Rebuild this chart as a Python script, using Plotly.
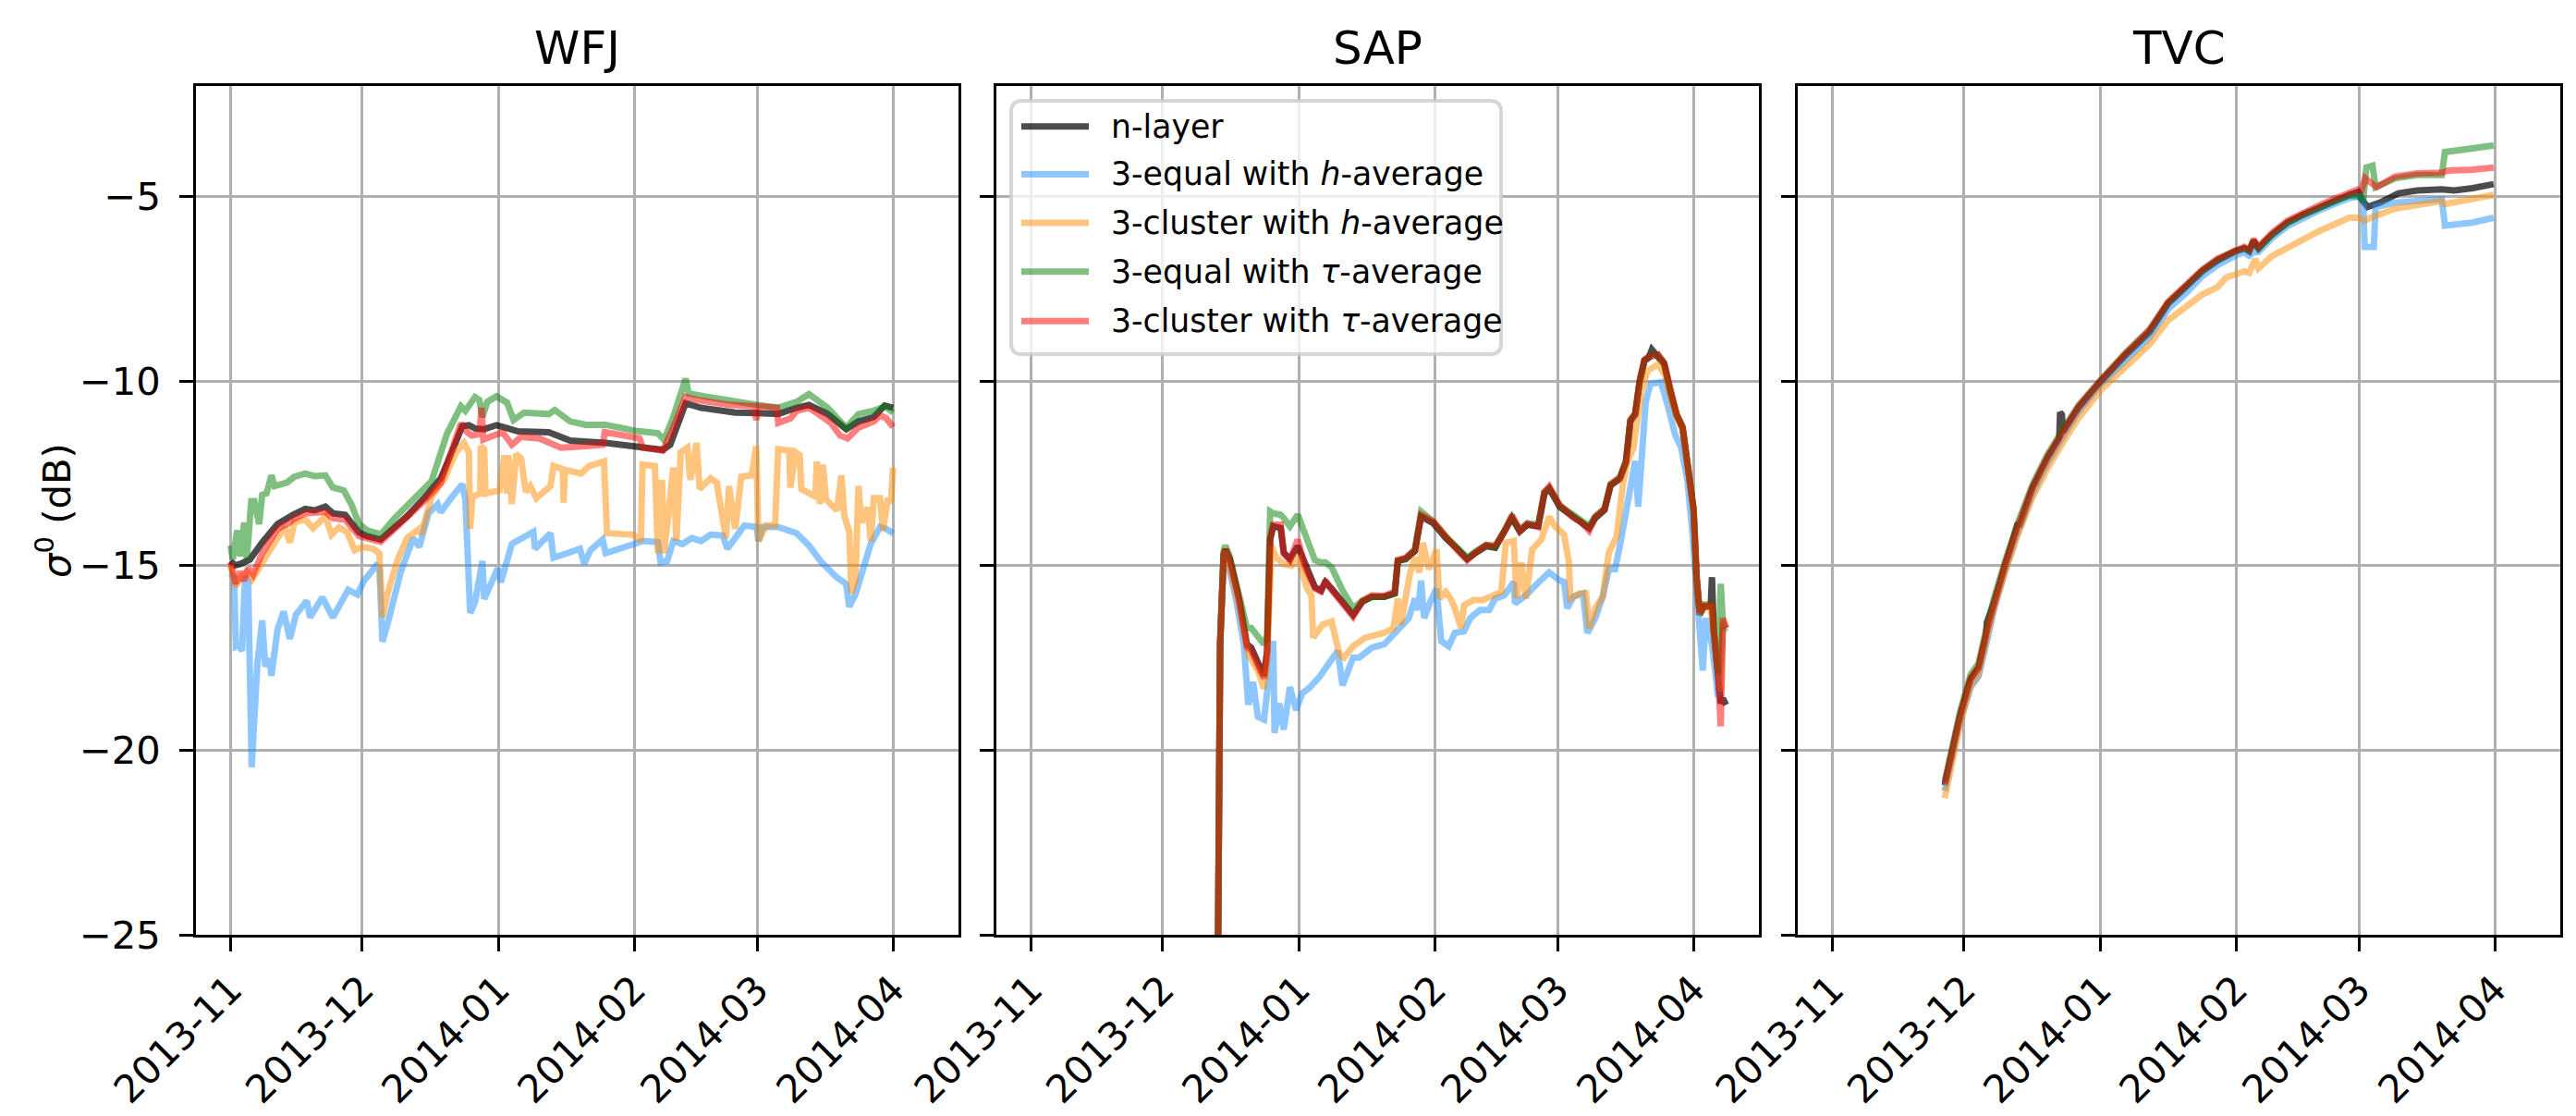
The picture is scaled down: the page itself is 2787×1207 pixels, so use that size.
import pandas as pd
import plotly.graph_objects as go

# ---------------- data (day offsets from 2013-11-01, sigma0 in dB) ----------------
BASE_DATE = "2013-11-01"
SITES = ["WFJ", "SAP", "TVC"]
LABELS = ["n-layer",
          "3-equal with <i>h</i>-average",
          "3-cluster with <i>h</i>-average",
          "3-equal with <i>τ</i>-average",
          "3-cluster with <i>τ</i>-average"]
MONTH_TICKS = ["2013-11-01", "2013-12-01", "2014-01-01", "2014-02-01", "2014-03-01", "2014-04-01"]
MONTH_LABELS = ["2013-11", "2013-12", "2014-01", "2014-02", "2014-03", "2014-04"]
Y_TICKS = [-25, -20, -15, -10, -5]
Y_LABELS = ["−25", "−20", "−15", "−10", "−5"]

# ---- WFJ ----
WFJ_BLACK_D = [0, 1, 2.2, 4.4, 7.2, 10.7, 14.2, 17, 19.1, 21.6,
               23.3, 26.1, 29.3, 31.1, 34.2, 37.4, 40.2, 44.4, 47.9, 50.7,
               52.8, 54.3, 55.7, 57.8, 60.6, 62.7, 65.5, 72.5, 77.4, 85.5,
               92, 98.5, 100.2, 103.7, 107.2, 115, 120, 124.8, 129, 131.8,
               136.1, 140.3, 143.1, 146.6, 149.1, 151]
WFJ_BLACK_V = [-14.87, -14.99, -14.95, -14.83, -14.37, -13.87, -13.62, -13.46, -13.50, -13.40,
               -13.58, -13.62, -14.10, -14.20, -14.29, -13.96, -13.66, -13.13, -12.63, -11.84,
               -11.22, -11.19, -11.28, -11.30, -11.19, -11.26, -11.36, -11.38, -11.61, -11.67,
               -11.76, -11.86, -11.72, -10.60, -10.72, -10.85, -10.86, -10.89, -10.72, -10.64,
               -10.89, -11.30, -11.09, -10.97, -10.66, -10.72]

WFJ_BLUE_D = [0, 0.8, 1.2, 1.9, 2.6, 3.3, 4.0, 4.8, 6.1, 7.2,
              7.9, 8.9, 9.3, 10.7, 12.1, 13.5, 14.9, 17.4, 18.1, 20.9,
              23.3, 26.8, 28.9, 30.4, 33.2, 33.9, 34.6, 36.0, 38.8, 41.6,
              43.0, 45.1, 47.2, 47.9, 50.0, 52.8, 53.5, 54.6, 55.7, 57.4,
              57.8, 60.9, 61.6, 64.1, 69.0, 69.4, 72.9, 73.6, 76.8, 79.6,
              80.6, 82.0, 84.8, 85.5, 92.5, 93.9, 97.4, 98.0, 99.5, 100.9,
              103.0, 105.1, 107.2, 109.4, 112.2, 113.2, 115.0, 117.1, 119.9, 120.3,
              121.3, 124.8, 129.0, 131.8, 134.7, 138.2, 140.3, 141.0, 142.4, 144.5,
              145.9, 148.0, 149.4, 151.0]
WFJ_BLUE_V = [-15.20, -15.32, -17.19, -17.15, -17.31, -15.28, -15.41, -20.46, -17.65, -16.48,
              -17.73, -17.52, -17.98, -16.73, -16.24, -16.98, -16.32, -15.95, -16.40, -15.86,
              -16.40, -15.65, -15.78, -15.41, -14.99, -15.05, -17.06, -16.48, -15.16, -14.25,
              -14.49, -13.58, -13.33, -13.55, -13.21, -12.79, -13.20, -16.28, -15.99, -14.87,
              -15.90, -15.07, -15.45, -14.41, -14.08, -14.54, -14.12, -14.78, -14.66, -14.54,
              -14.95, -14.58, -14.29, -14.66, -14.39, -14.33, -14.36, -14.91, -14.87, -14.33,
              -14.41, -14.25, -14.33, -14.16, -14.18, -14.54, -14.25, -13.91, -13.95, -14.33,
              -13.95, -13.95, -14.12, -14.45, -14.91, -15.32, -15.49, -16.11, -15.78, -14.99,
              -14.41, -13.95, -14.00, -14.12]

WFJ_ORANGE_D = [0, 1.2, 2.2, 3.7, 4.9, 7.2, 10.7, 12.4, 13.5, 14.5,
                17.0, 18.8, 21.6, 23.0, 24.7, 26.5, 28.3, 30.0, 32.5, 33.9,
                34.6, 36.0, 38.1, 40.2, 43.0, 43.4, 45.8, 48.6, 51.4, 53.2,
                54.3, 54.6, 55.1, 56.9, 57.0, 57.8, 58.1, 61.3, 62.4, 63.0,
                63.3, 64.1, 65.1, 66.2, 67.3, 68.3, 69.7, 72.9, 73.6, 75.7,
                75.9, 76.2, 79.9, 81.7, 85.1, 85.8, 89.7, 91.8, 93.5, 93.9,
                96.7, 97.4, 98.3, 98.8, 100.9, 101.6, 102.6, 104.1, 104.8, 106.2,
                106.9, 109.4, 110.8, 112.9, 113.6, 115.0, 116.4, 118.8, 119.8, 120.3,
                122.0, 124.1, 124.8, 127.3, 127.6, 128.7, 129.7, 130.1, 133.3, 133.6,
                134.3, 135.0, 135.7, 138.2, 139.2, 139.9, 141.0, 141.5, 142.4, 143.1,
                143.8, 145.2, 145.9, 146.6, 148.0, 148.7, 149.8, 150.5, 151.0]
WFJ_ORANGE_V = [-14.99, -15.57, -15.32, -15.16, -15.37, -14.91, -14.25, -13.96, -14.37, -13.83,
                -13.75, -13.98, -13.66, -14.16, -13.96, -14.08, -14.58, -14.49, -14.54, -14.66,
                -16.40, -15.65, -14.83, -14.25, -14.00, -14.16, -13.13, -12.67, -11.92, -11.67,
                -11.92, -14.00, -13.13, -13.04, -11.76, -11.84, -13.04, -12.96, -12.00, -13.04,
                -12.00, -13.33, -11.97, -12.09, -13.00, -12.84, -13.17, -12.84, -12.30, -12.38,
                -13.29, -12.40, -12.50, -12.30, -12.17, -14.12, -14.12, -14.16, -14.33, -12.26,
                -12.30, -14.66, -12.67, -14.66, -12.34, -14.33, -11.92, -11.80, -12.67, -11.67,
                -12.92, -12.63, -12.75, -14.25, -12.84, -14.00, -12.59, -12.55, -11.76, -14.33,
                -13.91, -13.91, -11.84, -11.88, -12.88, -11.92, -12.00, -12.92, -13.13, -12.17,
                -13.33, -12.26, -13.21, -13.50, -12.55, -13.66, -14.08, -15.74, -15.41, -12.84,
                -13.83, -13.42, -14.33, -13.17, -13.17, -14.04, -13.17, -13.30, -12.34]

WFJ_GREEN_D = [0, 0.5, 1.5, 2.2, 3.1, 3.7, 4.7, 5.4, 6.5, 7.2,
               8.2, 9.3, 10.0, 12.8, 14.5, 17.0, 19.1, 21.6, 23.3, 25.8,
               27.5, 29.3, 31.1, 34.2, 37.4, 41.6, 45.8, 49.3, 52.5, 53.5,
               55.7, 56.7, 57.4, 58.5, 60.6, 63.0, 64.5, 66.9, 72.5, 73.9,
               77.4, 81.0, 85.5, 92.0, 97.4, 98.8, 100.9, 103.7, 104.4, 108.0,
               115.0, 120.0, 124.8, 129.0, 131.8, 136.1, 140.3, 143.1, 146.6, 149.1,
               151.0]
WFJ_GREEN_V = [-14.45, -14.83, -14.04, -14.74, -13.83, -14.83, -13.25, -13.25, -13.87, -13.08,
               -13.04, -12.55, -12.84, -12.75, -12.59, -12.50, -12.57, -12.55, -12.88, -12.96,
               -13.33, -13.87, -14.04, -14.15, -13.71, -13.21, -12.71, -11.43, -10.68, -10.80,
               -10.43, -10.51, -10.97, -10.56, -10.41, -10.58, -11.05, -10.85, -10.89, -10.78,
               -11.09, -11.18, -11.18, -11.34, -11.41, -11.59, -10.97, -9.93, -10.33, -10.41,
               -10.56, -10.64, -10.72, -10.56, -10.35, -10.72, -11.26, -10.89, -10.80, -10.68,
               -10.85]

WFJ_RED_D = [0, 1.2, 2.2, 3.0, 4.0, 5.1, 7.2, 10.7, 13.5, 14.2,
             17.0, 21.6, 23.3, 26.1, 29.3, 34.2, 37.4, 44.4, 47.9, 50.7,
             52.5, 53.9, 55.0, 56.7, 57.0, 57.2, 57.6, 62.0, 64.1, 66.2,
             70.4, 75.3, 81.0, 84.8, 85.3, 93.2, 93.9, 98.5, 100.9, 103.7,
             106.5, 113.6, 119.2, 119.6, 119.9, 120.2, 124.5, 124.8, 127.6, 129.0,
             131.8, 134.0, 136.8, 138.9, 140.6, 143.1, 146.6, 148.0, 149.4, 151.0]
WFJ_RED_V = [-14.91, -15.49, -15.16, -15.41, -15.07, -15.24, -14.66, -14.00, -13.83, -13.75,
             -13.58, -13.54, -13.71, -13.75, -14.20, -14.35, -14.00, -13.21, -12.75, -11.84,
             -11.14, -11.38, -11.47, -11.43, -10.72, -10.72, -11.58, -11.38, -11.72, -11.51,
             -11.55, -11.80, -11.76, -11.72, -11.38, -11.55, -11.80, -11.88, -11.26, -10.43,
             -10.51, -10.64, -10.68, -11.05, -11.05, -10.68, -10.72, -11.13, -11.01, -10.80,
             -10.72, -10.89, -11.13, -11.47, -11.55, -11.26, -11.09, -10.93, -11.00, -11.24]

# ---- SAP ----
SAP_TAU_D = [42.35, 43.1, 43.9, 44.3, 45.3, 47.4, 49.2, 50.2, 51.7, 53.1,
             53.8, 54.5, 55.2, 56.9, 57.6, 59.0, 60.8, 62.5, 64.7, 66.1,
             67.1, 68.5, 71.0, 73.4, 75.5, 77.7, 80.5, 82.9, 83.6, 85.4,
             87.5, 88.9, 91.7, 94.5, 97.3, 99.4, 101.5, 103.7, 105.8, 107.9,
             109.6, 111.4, 113.1, 115.6, 117.0, 118.1, 120.5, 121.5, 123.6, 125.4,
             127.2, 128.6, 130.7, 132.1, 134.2, 135.6, 136.6, 137.7, 138.7, 139.8,
             140.8, 141.5, 142.9, 144.3, 145.7, 147.1, 148.5, 149.9, 151.0, 151.7,
             152.4, 153.4, 154.9, 155.2, 155.6, 156.6, 157.2, 157.7, 158.4]
SAP_BLACK_V = [-30.0, -17.1, -14.7, -14.56, -14.82, -15.89, -17.13, -17.22, -17.62, -17.98,
               -17.31, -14.29, -13.93, -13.98, -14.64, -14.82, -14.47, -15.00, -15.58, -15.67,
               -15.44, -15.62, -15.98, -16.33, -15.98, -15.84, -15.84, -15.75, -14.87, -14.82,
               -14.60, -13.67, -13.85, -14.25, -14.56, -14.82, -14.64, -14.47, -14.51, -14.11,
               -13.71, -14.07, -13.89, -13.93, -13.05, -12.91, -13.40, -13.49, -13.67, -13.80,
               -13.98, -13.71, -13.49, -12.82, -12.65, -12.20, -11.09, -10.91, -10.03, -9.45,
               -9.36, -9.14, -9.31, -9.54, -10.29, -10.91, -11.27, -12.60, -13.49, -15.36,
               -16.33, -16.11, -16.11, -15.31, -16.78, -18.02, -18.73, -18.60, -18.77]
SAP_GREEN_V = [-30.0, -17.1, -14.6, -14.45, -14.75, -15.80, -16.69, -16.69, -16.90, -17.13,
               -16.90, -13.53, -13.58, -13.62, -13.71, -13.93, -13.62, -14.20, -14.85, -14.91,
               -14.91, -15.04, -15.67, -16.15, -15.95, -15.84, -15.84, -15.75, -14.87, -14.80,
               -14.55, -13.53, -13.80, -14.20, -14.50, -14.78, -14.60, -14.43, -14.48, -14.05,
               -13.68, -14.02, -13.85, -13.88, -13.00, -12.90, -13.38, -13.45, -13.62, -13.75,
               -13.92, -13.66, -13.45, -12.78, -12.60, -12.15, -11.05, -10.87, -10.00, -9.42,
               -9.33, -9.30, -9.28, -9.50, -10.25, -10.88, -11.24, -12.56, -13.45, -15.30,
               -16.25, -16.05, -16.05, -16.05, -16.70, -17.95, -15.49, -16.60, -16.69]
SAP_RED_V = [-30.0, -17.1, -14.7, -14.56, -14.85, -15.92, -17.20, -17.30, -17.70, -18.05,
             -17.35, -14.25, -13.89, -13.89, -14.68, -14.85, -14.29, -15.05, -15.62, -15.70,
             -15.40, -15.66, -16.02, -16.38, -15.95, -15.80, -15.82, -15.70, -14.84, -14.78,
             -14.58, -13.62, -13.80, -14.22, -14.60, -14.85, -14.62, -14.44, -14.45, -14.08,
             -13.63, -14.05, -13.86, -13.95, -13.00, -12.85, -13.35, -13.47, -13.70, -13.82,
             -14.05, -13.68, -13.47, -12.80, -12.62, -12.18, -11.05, -10.88, -10.00, -9.42,
             -9.33, -9.33, -9.28, -9.50, -10.25, -10.88, -11.24, -12.56, -13.45, -15.30,
             -16.28, -16.08, -16.08, -16.08, -16.75, -18.00, -19.35, -16.42, -16.69]

SAP_ORANGE_D = [42.35, 43.1, 43.9, 44.3, 47.4, 49.5, 51.7, 53.1, 53.8, 54.8,
                55.9, 57.6, 59.4, 60.8, 62.9, 63.9, 64.3, 66.4, 68.5, 69.2,
                70.3, 71.3, 73.4, 76.2, 78.4, 80.5, 82.6, 83.6, 84.3, 86.4,
                87.5, 88.5, 89.3, 90.7, 92.4, 93.1, 94.5, 95.6, 96.6, 98.0,
                98.7, 100.8, 103.0, 105.1, 107.2, 108.2, 110.0, 110.7, 111.7, 112.8,
                113.8, 114.2, 116.3, 118.1, 119.4, 121.5, 122.6, 122.9, 125.0, 126.5,
                127.2, 128.6, 130.3, 131.7, 133.5, 134.9, 135.9, 137.3, 139.1, 140.5,
                142.9, 144.6, 146.0, 147.1, 148.5, 149.9, 151.0, 151.7, 152.4, 153.4,
                154.9, 155.6, 156.6, 157.2, 157.7, 158.4]
SAP_ORANGE_V = [-30.0, -17.1, -14.75, -14.60, -16.07, -17.40, -17.84, -18.33, -17.60, -14.47,
                -14.78, -14.96, -15.00, -14.73, -15.62, -15.80, -16.95, -16.60, -16.51, -16.87,
                -17.40, -17.49, -17.18, -16.95, -16.87, -16.82, -16.69, -15.89, -16.60, -15.18,
                -14.78, -15.18, -14.38, -15.09, -14.56, -15.89, -15.71, -15.89, -16.15, -16.69,
                -16.07, -15.93, -15.93, -15.80, -15.71, -14.38, -14.33, -15.89, -14.91, -15.89,
                -14.91, -14.56, -14.29, -13.67, -13.93, -14.16, -14.91, -15.89, -15.75, -15.75,
                -16.69, -16.15, -15.84, -14.64, -14.20, -12.78, -12.20, -11.80, -10.29, -9.72,
                -9.54, -9.85, -10.56, -10.95, -11.30, -12.65, -13.50, -15.40, -16.30, -16.10,
                -16.10, -16.80, -18.00, -18.40, -16.50, -16.70]

SAP_BLUE_D = [42.35, 43.1, 43.9, 44.3, 46.7, 48.5, 49.5, 50.6, 51.7, 53.1,
              54.1, 55.2, 55.5, 56.6, 57.6, 59.0, 60.4, 61.8, 63.6, 65.7,
              67.8, 69.9, 71.0, 73.4, 74.8, 77.7, 80.5, 83.3, 86.1, 87.5,
              88.2, 88.9, 89.6, 91.0, 92.4, 93.5, 95.2, 96.6, 98.7, 100.1,
              102.3, 104.4, 105.8, 107.9, 110.0, 110.3, 112.8, 115.0, 118.1, 120.5,
              121.5, 122.2, 123.6, 125.8, 126.8, 128.6, 130.3, 131.7, 133.1, 134.2,
              135.6, 136.6, 137.7, 138.4, 139.4, 140.1, 141.2, 143.6, 145.3, 146.8,
              148.2, 149.6, 150.6, 151.7, 153.1, 153.8, 155.2, 156.6, 157.7, 158.4]
SAP_BLUE_V = [-30.0, -17.1, -14.8, -14.64, -15.89, -17.13, -18.77, -18.15, -19.09, -19.17,
              -18.11, -17.04, -19.53, -18.73, -19.44, -18.29, -18.91, -18.46, -18.29, -18.02,
              -17.66, -17.31, -18.24, -17.49, -17.49, -17.22, -17.13, -16.78, -16.42, -15.89,
              -16.20, -15.40, -16.42, -15.98, -15.62, -17.04, -17.18, -16.82, -16.78, -16.42,
              -16.20, -16.20, -15.89, -15.80, -15.44, -16.02, -15.80, -15.53, -15.18, -15.40,
              -15.44, -16.15, -15.84, -15.75, -16.82, -16.42, -15.84, -15.09, -15.09, -14.47,
              -13.58, -12.87, -12.16, -13.40, -11.80, -10.56, -10.07, -10.03, -10.74, -11.45,
              -11.80, -12.69, -13.93, -15.89, -17.84, -16.42, -17.13, -18.55, -16.69, -16.80]

# ---- TVC ----
TVC_BLACK_D = [25.6, 27.3, 29.1, 31.5, 33.3, 35.0, 35.2, 36.8, 39.3, 42.1,
               42.3, 42.6, 45.6, 49.1, 51.7, 51.9, 52.3, 52.6, 56.1, 61.1,
               66.7, 72.3, 76.5, 80.7, 84.3, 87.8, 91.8, 93.9, 95.0, 96.0,
               97.1, 100.2, 103.7, 107.2, 110.8, 114.3, 117.8, 119.9, 120.6, 122.0,
               124.8, 129.0, 133.3, 138.9, 141.7, 145.9, 150.7]
TVC_BLACK_V = [-20.95, -20.06, -19.07, -18.07, -17.77, -16.90, -16.54, -16.01, -15.01, -14.01,
               -13.84, -13.95, -12.90, -12.07, -11.55, -10.84, -10.90, -11.37, -10.72, -10.02,
               -9.31, -8.67, -7.90, -7.43, -7.02, -6.73, -6.48, -6.40, -6.48, -6.19,
               -6.40, -6.03, -5.70, -5.49, -5.30, -5.12, -4.95, -4.87, -5.07, -5.28,
               -5.16, -4.91, -4.83, -4.80, -4.83, -4.77, -4.66]

TVC_BLUE_D = [25.6, 27.3, 29.1, 31.5, 33.3, 35.1, 36.8, 39.3, 42.1, 45.6,
              49.1, 52.6, 56.1, 61.1, 66.7, 72.3, 76.5, 80.7, 84.3, 87.8,
              91.8, 93.9, 95.0, 96.0, 97.1, 100.2, 103.7, 107.2, 110.8, 114.3,
              117.8, 119.9, 121.0, 121.3, 123.4, 123.8, 128.3, 138.9, 139.6, 145.9,
              150.7]
TVC_BLUE_V = [-21.10, -20.20, -19.20, -18.30, -18.00, -17.10, -16.20, -15.15, -14.15, -13.05,
              -12.20, -11.50, -10.82, -10.10, -9.42, -8.80, -8.05, -7.60, -7.15, -6.85,
              -6.60, -6.50, -6.60, -6.50, -6.50, -6.12, -5.80, -5.58, -5.38, -5.20,
              -5.04, -5.00, -5.10, -6.36, -6.36, -5.28, -5.16, -5.07, -5.78, -5.70,
              -5.57]

TVC_ORANGE_D = [25.6, 27.3, 29.1, 31.5, 33.3, 35.1, 36.8, 39.3, 42.1, 45.6,
                49.1, 52.6, 56.1, 61.1, 66.7, 72.3, 76.5, 80.7, 84.3, 87.8,
                89.7, 93.9, 95.0, 96.4, 97.1, 100.2, 105.8, 110.8, 117.8, 119.9,
                121.3, 122.7, 128.3, 138.9, 139.6, 145.9, 150.7]
TVC_ORANGE_V = [-21.30, -20.30, -19.30, -18.25, -17.95, -17.00, -16.15, -15.20, -14.20, -13.15,
                -12.35, -11.65, -11.00, -10.25, -9.60, -9.00, -8.35, -8.00, -7.65, -7.45,
                -7.19, -7.02, -7.06, -6.69, -6.94, -6.61, -6.23, -5.94, -5.57, -5.57,
                -5.65, -5.57, -5.32, -5.12, -5.20, -5.07, -4.95]

TVC_GREEN_D = [25.6, 27.3, 29.1, 31.5, 33.3, 35.0, 36.8, 39.3, 42.1, 45.6,
               49.1, 52.6, 56.1, 61.1, 66.7, 72.3, 76.5, 80.7, 84.3, 87.8,
               91.8, 93.9, 95.0, 96.0, 97.1, 100.2, 103.7, 107.2, 110.8, 114.3,
               117.8, 119.9, 121.0, 121.7, 123.1, 123.8, 128.3, 133.3, 138.9, 139.6,
               145.9, 150.7]
TVC_GREEN_V = [-20.85, -19.95, -18.95, -17.95, -17.65, -16.75, -15.90, -14.90, -13.90, -12.80,
               -11.97, -11.30, -10.65, -9.97, -9.25, -8.60, -7.87, -7.40, -7.00, -6.70,
               -6.47, -6.40, -6.45, -6.25, -6.40, -6.03, -5.72, -5.50, -5.30, -5.12,
               -4.97, -4.99, -5.07, -4.21, -4.16, -4.74, -4.50, -4.41, -4.41, -3.79,
               -3.69, -3.61]

TVC_RED_D = [25.6, 27.3, 29.1, 31.5, 33.3, 35.0, 36.8, 39.3, 42.1, 45.6,
             49.1, 52.6, 56.1, 61.1, 66.7, 72.3, 76.5, 80.7, 84.3, 87.8,
             91.8, 93.9, 95.0, 96.0, 97.1, 100.2, 103.7, 107.2, 110.8, 114.3,
             117.8, 119.9, 120.6, 121.4, 122.7, 124.1, 128.3, 133.3, 138.9, 140.3,
             145.9, 150.7]
TVC_RED_V = [-20.90, -20.00, -19.05, -18.05, -17.75, -16.85, -16.00, -14.98, -13.98, -12.87,
             -12.03, -11.33, -10.68, -9.99, -9.26, -8.60, -7.85, -7.38, -6.98, -6.68,
             -6.44, -6.36, -6.44, -6.15, -6.36, -5.98, -5.65, -5.43, -5.24, -5.06,
             -4.89, -4.80, -4.83, -4.50, -4.62, -4.74, -4.45, -4.37, -4.35, -4.29,
             -4.27, -4.21]

SERIES = {
    "WFJ": [(WFJ_BLACK_D, WFJ_BLACK_V), (WFJ_BLUE_D, WFJ_BLUE_V), (WFJ_ORANGE_D, WFJ_ORANGE_V),
            (WFJ_GREEN_D, WFJ_GREEN_V), (WFJ_RED_D, WFJ_RED_V)],
    "SAP": [(SAP_TAU_D, SAP_BLACK_V), (SAP_BLUE_D, SAP_BLUE_V), (SAP_ORANGE_D, SAP_ORANGE_V),
            (SAP_TAU_D, SAP_GREEN_V), (SAP_TAU_D, SAP_RED_V)],
    "TVC": [(TVC_BLACK_D, TVC_BLACK_V), (TVC_BLUE_D, TVC_BLUE_V), (TVC_ORANGE_D, TVC_ORANGE_V),
            (TVC_GREEN_D, TVC_GREEN_V), (TVC_RED_D, TVC_RED_V)],
}

# ---------------- styling ----------------
COLORS = ["rgba(0,0,0,0.7)", "rgba(30,144,255,0.5)", "rgba(255,140,0,0.5)",
          "rgba(0,128,0,0.5)", "rgba(255,0,0,0.5)"]
LINE_W = 7
FONT = "DejaVu Sans"
W, H = 2787, 1207
ML, MR, MT, MB = 204, 25, 85, 198
PW = W - ML - MR
PH = H - MT - MB
PANEL_LEFT = [204, 1070, 1937]
PANEL_W = 825
X_RANGE = ["2013-10-24 02:24", "2014-04-15 21:36"]

# legend box geometry (pixels in the figure)
LEG_BOX = (1086, 101, 1616, 377)
LEG_LINE_X = (1097, 1170)
LEG_TEXT_X = 1192
LEG_ROW_Y = [129, 181, 234, 287, 341]

base = pd.Timestamp(BASE_DATE)


def to_dates(days):
    return [base + pd.Timedelta(days=float(d)) for d in days]


def px(x):
    return (x - ML) / PW


def py(y):
    return 1 - (y - MT) / PH


fig = go.Figure()
for si, site in enumerate(SITES):
    ax = "" if si == 0 else str(si + 1)
    for k, (d, v) in enumerate(SERIES[site]):
        assert len(d) == len(v), (site, k, len(d), len(v))
        fig.add_trace(go.Scatter(
            x=to_dates(d), y=v, mode="lines", name=LABELS[k],
            line=dict(color=COLORS[k], width=LINE_W),
            legendgroup=LABELS[k], showlegend=False,
            xaxis="x" + ax, yaxis="y" + ax, hoverinfo="skip"))

common = dict(showline=True, linecolor="black", linewidth=3.3, mirror=True,
              ticks="outside", ticklen=14.6, tickwidth=3.3, tickcolor="black",
              showgrid=True, gridcolor="#b0b0b0", gridwidth=3.3, zeroline=False,
              tickfont=dict(family=FONT, size=41.7, color="black"))

annotations = []
shapes = []
layout = dict(width=W, height=H, autosize=False,
              margin=dict(l=ML, r=MR, t=MT, b=MB, pad=0),
              paper_bgcolor="white", plot_bgcolor="white",
              font=dict(family=FONT, color="black"), showlegend=False)

for si, site in enumerate(SITES):
    ax = "" if si == 0 else str(si + 1)
    d0 = px(PANEL_LEFT[si])
    d1 = min(1.0, px(PANEL_LEFT[si] + PANEL_W))
    layout["xaxis" + ax] = dict(common, type="date", domain=[d0, d1], range=X_RANGE,
                                 tickmode="array", tickvals=MONTH_TICKS, ticktext=MONTH_LABELS,
                                 tickangle=-45, anchor="y" + ax)
    yax = dict(common, range=[-25, -2], tickmode="array", tickvals=Y_TICKS, ticktext=Y_LABELS,
               anchor="x" + ax, ticklabelstandoff=12)
    if si > 0:
        yax["showticklabels"] = False
        yax["matches"] = "y"
    layout["yaxis" + ax] = yax
    annotations.append(dict(
        text=site, x=(d0 + d1) / 2, y=1, xref="paper", yref="paper",
        xanchor="center", yanchor="bottom", yshift=10, showarrow=False,
        font=dict(family=FONT, size=50, color="black")))

annotations.append(dict(
    text="<i>σ</i><sup>0</sup> (dB)", x=px(50), y=0.5, xref="paper", yref="paper",
    xanchor="center", yanchor="middle", textangle=-90, showarrow=False,
    font=dict(family=FONT, size=41.7, color="black")))

# legend (matplotlib-style framed box with long line handles) in the SAP panel
x0, y0, x1, y1 = LEG_BOX
r = 12
path = (f"M {px(x0 + r)},{py(y0)} L {px(x1 - r)},{py(y0)} Q {px(x1)},{py(y0)} {px(x1)},{py(y0 + r)} "
        f"L {px(x1)},{py(y1 - r)} Q {px(x1)},{py(y1)} {px(x1 - r)},{py(y1)} "
        f"L {px(x0 + r)},{py(y1)} Q {px(x0)},{py(y1)} {px(x0)},{py(y1 - r)} "
        f"L {px(x0)},{py(y0 + r)} Q {px(x0)},{py(y0)} {px(x0 + r)},{py(y0)} Z")
shapes.append(dict(type="path", path=path, xref="paper", yref="paper", layer="above",
                   fillcolor="rgba(255,255,255,0.8)",
                   line=dict(color="rgba(204,204,204,0.8)", width=4)))
for k, lab in enumerate(LABELS):
    yy = py(LEG_ROW_Y[k])
    shapes.append(dict(type="line", xref="paper", yref="paper", layer="above",
                       x0=px(LEG_LINE_X[0]), x1=px(LEG_LINE_X[1]), y0=yy, y1=yy,
                       line=dict(color=COLORS[k], width=LINE_W)))
    annotations.append(dict(text=lab, x=px(LEG_TEXT_X), y=yy, xref="paper", yref="paper",
                            xanchor="left", yanchor="middle", showarrow=False,
                            font=dict(family=FONT, size=34.7, color="black")))

layout["annotations"] = annotations
layout["shapes"] = shapes
fig.update_layout(**layout)
fig.write_html("out.html")
